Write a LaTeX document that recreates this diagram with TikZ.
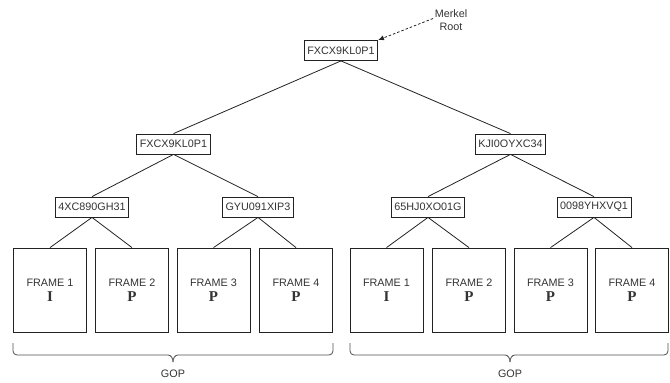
\documentclass[tikz,border=0pt]{standalone}
\usepackage{fontspec}
\setmainfont{Liberation Sans}
\newfontfamily\frameserif{Liberation Serif}
\usetikzlibrary{arrows.meta}
\definecolor{txt}{HTML}{333333}
\definecolor{ln}{HTML}{222222}
\tikzset{
  hashbox/.style={draw=ln, line width=0.8pt, inner xsep=3pt, inner ysep=0pt, minimum height=20pt, text=txt, font=\fontsize{10.8}{12}\selectfont},
  framebox/.style={draw=ln, line width=0.8pt, minimum width=73pt, minimum height=84pt, inner sep=0pt, align=center, text=txt, font=\fontsize{10.8}{12}\selectfont},
  link/.style={draw=ln, line width=0.8pt},
  lbl/.style={text=txt, font=\fontsize{10.8}{12.5}\selectfont, inner sep=0pt, align=center},
  bracepath/.style={draw=ln!80, line width=0.8pt}
}
\newcommand{\frm}[2]{FRAME #1\\[3pt]{\frameserif\bfseries\fontsize{15}{15}\selectfont #2}}
\begin{document}
\begin{tikzpicture}[x=1pt,y=-1pt]
\useasboundingbox (0,0) rectangle (670,383);
% hash nodes
\node[hashbox] (root) at (341,50.5) {FXCX9KL0P1};
\node[hashbox] (l) at (173.5,144) {FXCX9KL0P1};
\node[hashbox] (r) at (510.5,144) {KJI0OYXC34};
\node[hashbox] (ll) at (92,207) {4XC890GH31};
\node[hashbox] (lr) at (258,207) {GYU091XIP3};
\node[hashbox] (rl) at (428,207) {65HJ0XO01G};
\node[hashbox] (rr) at (594,207) {0098YHXVQ1};
% frames
\node[framebox] (f1) at (50,290) {\frm{1}{I}};
\node[framebox] (f2) at (132,290) {\frm{2}{P}};
\node[framebox] (f3) at (213.5,290) {\frm{3}{P}};
\node[framebox] (f4) at (296,290) {\frm{4}{P}};
\node[framebox] (g1) at (386.5,290) {\frm{1}{I}};
\node[framebox] (g2) at (469,290) {\frm{2}{P}};
\node[framebox] (g3) at (550.5,290) {\frm{3}{P}};
\node[framebox] (g4) at (632,290) {\frm{4}{P}};
% links
\draw[link] (root.south) -- (l.north);
\draw[link] (root.south) -- (r.north);
\draw[link] (l.south) -- (ll.north);
\draw[link] (l.south) -- (lr.north);
\draw[link] (r.south) -- (rl.north);
\draw[link] (r.south) -- (rr.north);
\draw[link] (ll.south) -- (f1.north);
\draw[link] (ll.south) -- (f2.north);
\draw[link] (lr.south) -- (f3.north);
\draw[link] (lr.south) -- (f4.north);
\draw[link] (rl.south) -- (g1.north);
\draw[link] (rl.south) -- (g2.north);
\draw[link] (rr.south) -- (g3.north);
\draw[link] (rr.south) -- (g4.north);
% merkel root label
\node[lbl] (merkel) at (451,20) {Merkel\\Root};
\coordinate (ms) at (433,18.5);
\draw[link, dashed, dash pattern=on 2.5pt off 2pt, -{Latex[length=6pt,width=5pt]}] (ms) -- (root.north east);
% braces
\draw[bracepath, rounded corners=4pt] (13,343) -- (13,355) -- (168,355);
\draw[bracepath, rounded corners=4pt] (333,343) -- (333,355) -- (178,355);
\draw[bracepath] (168,355) to[out=0,in=90] (173,362);
\draw[bracepath] (178,355) to[out=180,in=90] (173,362);
\draw[bracepath, rounded corners=4pt] (350,343) -- (350,355) -- (505,355);
\draw[bracepath, rounded corners=4pt] (668,343) -- (668,355) -- (515,355);
\draw[bracepath] (505,355) to[out=0,in=90] (510,362);
\draw[bracepath] (515,355) to[out=180,in=90] (510,362);
\node[lbl] (gop1) at (173,374) {GOP};
\node[lbl] (gop2) at (510,374) {GOP};
\end{tikzpicture}
\end{document}
